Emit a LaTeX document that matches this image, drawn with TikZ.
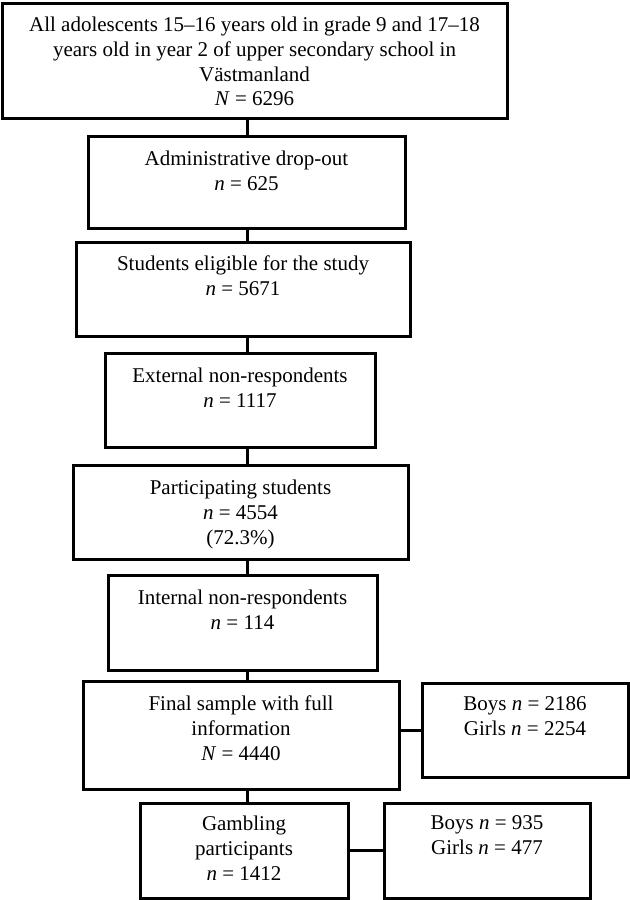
\documentclass[tikz,border=0pt]{standalone}
\usepackage{fontspec}
\setmainfont{Liberation Serif}
\usetikzlibrary{positioning}

\tikzset{
  box/.style={draw, line width=1.5pt, inner sep=0pt},
  boxtext/.style={align=center, inner sep=0pt, font=\fontsize{10.5}{12.4}\selectfont},
  link/.style={line width=1.5pt}
}

\begin{document}
\begin{tikzpicture}[x=0.5pt, y=-0.5pt]
            \useasboundingbox (0,0) rectangle (630,900);

            % Draw boxes
            \node[box, minimum width=252.5pt, minimum height=57.5pt] (all) at (254.5,60.5) {};
            \node[box, minimum width=158.5pt, minimum height=46pt] (admin) at (246.5,182) {};
            \node[box, minimum width=167pt, minimum height=47pt] (elig) at (243,289) {};
            \node[box, minimum width=135pt, minimum height=47pt] (extnr) at (240,400) {};
            \node[box, minimum width=167.5pt, minimum height=47pt] (part) at (240.5,512) {};
            \node[box, minimum width=134.5pt, minimum height=47.5pt] (intnr) at (242.5,622.5) {};
            \node[box, minimum width=158pt, minimum height=54pt] (final) at (241,735) {};
            \node[box, minimum width=103pt, minimum height=47pt] (finalsex) at (525,730) {};
            \node[box, minimum width=104pt, minimum height=47.5pt] (gamb) at (244,850.5) {};
            \node[box, minimum width=103pt, minimum height=47.5pt] (gambsex) at (487,850.5) {};

            % Text at the top of each box
            \node[boxtext, below=7.5pt of all.north] (all-t) {All adolescents 15--16 years old in grade 9 and 17--18\\years old in year 2 of upper secondary school in\\Västmanland\\\textit{N} = 6296};
            \node[boxtext, below=8pt of admin.north] (admin-t) {Administrative drop-out\\\textit{n} = 625};
            \node[boxtext, below=7.5pt of elig.north] (elig-t) {Students eligible for the study\\\textit{n} = 5671};
            \node[boxtext, below=8pt of extnr.north] (extnr-t) {External non-respondents\\\textit{n} = 1117};
            \node[boxtext, below=8pt of part.north] (part-t) {Participating students\\\textit{n} = 4554\\(72.3\%)};
            \node[boxtext, below=8pt of intnr.north] (intnr-t) {Internal non-respondents\\\textit{n} = 114};
            \node[boxtext, below=8pt of final.north] (final-t) {Final sample with full\\information\\\textit{N} = 4440};
            \node[boxtext, below=7.5pt of finalsex.north] (finalsex-t) {Boys \textit{n} = 2186\\Girls \textit{n} = 2254};
            \node[boxtext, below=7pt of gamb.north] (gamb-t) {Gambling\\participants\\\textit{n} = 1412};
            \node[boxtext, below=7pt of gambsex.north] (gambsex-t) {Boys \textit{n} = 935\\Girls \textit{n} = 477};

            % Draw connectors
            \coordinate (spine) at (247.5,0);
            \draw[link] (all.south -| spine) -- (admin.north -| spine);
            \draw[link] (admin.south -| spine) -- (elig.north -| spine);
            \draw[link] (elig.south -| spine) -- (extnr.north -| spine);
            \draw[link] (extnr.south -| spine) -- (part.north -| spine);
            \draw[link] (part.south -| spine) -- (intnr.north -| spine);
            \draw[link] (intnr.south -| spine) -- (final.north -| spine);
            \draw[link] (final.south -| spine) -- (gamb.north -| spine);
            \draw[link] (final.east |- finalsex.west) -- (finalsex.west);
            \draw[link] (gamb.east) -- (gambsex.west);
        \end{tikzpicture}
\end{document}
